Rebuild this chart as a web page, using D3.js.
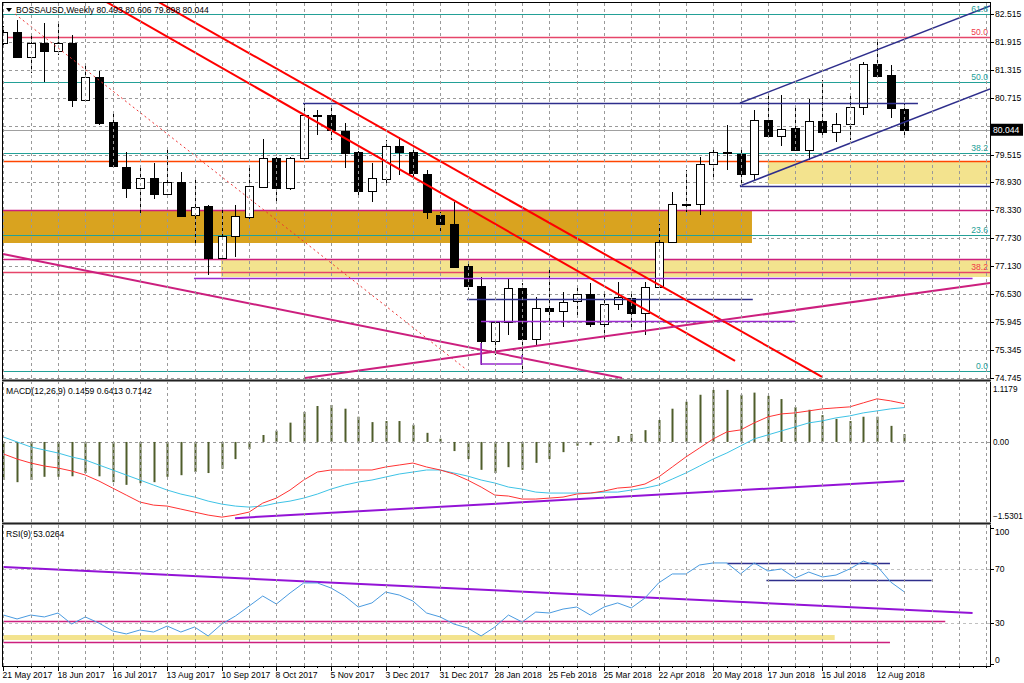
<!DOCTYPE html>
<html><head><meta charset="utf-8">
<script src="https://cdn.jsdelivr.net/npm/d3@7/dist/d3.min.js"></script>
<style>
body{margin:0;background:#fff;}
svg{display:block;font-family:"Liberation Sans",Arial,sans-serif;}
</style></head><body>
<svg id="c" width="1024" height="683"></svg>
<script>
// ---------- DATA ----------
const openP  = [81.90,82.13,81.60,81.90,81.73,81.90,80.68,81.17,80.21,79.25,78.80,79.02,78.67,78.93,78.22,78.42,77.31,77.78,78.18,78.82,79.44,78.80,79.44,80.36,80.36,80.02,79.57,78.74,79.00,79.70,79.57,79.10,78.22,78.03,77.14,76.71,75.53,75.94,76.67,75.58,76.24,76.18,76.39,76.54,75.90,76.33,76.45,76.13,76.69,77.65,78.46,78.46,79.31,79.57,79.53,79.10,80.25,79.91,80.08,79.61,80.23,80.00,80.17,80.53,81.45,81.21,80.493];
const highP  = [82.25,82.39,82.11,82.32,82.32,82.07,81.47,81.30,80.40,79.57,79.27,79.34,79.63,79.14,79.04,78.44,78.38,78.44,79.29,79.85,79.46,79.46,80.62,80.47,80.53,80.19,79.59,79.34,79.83,79.89,79.61,79.19,78.29,78.50,77.20,76.90,75.96,76.88,76.77,76.48,77.07,76.58,76.69,76.77,76.56,76.79,76.58,76.79,78.03,78.72,79.19,79.46,79.68,80.15,79.68,80.47,80.79,80.79,80.53,80.70,81.11,80.40,80.76,81.49,81.92,81.43,80.606];
const lowP   = [81.80,81.58,81.26,81.06,81.64,80.53,80.64,80.15,79.23,78.59,78.22,78.57,78.65,78.18,77.58,76.94,77.30,77.33,78.07,78.80,78.50,78.76,79.42,79.93,79.83,79.23,78.65,78.50,78.91,79.08,78.97,78.14,77.84,77.09,76.62,75.02,75.24,75.66,74.85,75.45,75.88,75.83,76.05,75.83,75.56,76.20,75.81,75.66,76.67,77.63,78.29,78.22,78.97,79.19,78.82,78.97,79.89,79.70,79.60,79.40,79.93,79.78,79.83,80.36,81.17,80.30,79.898];
const closeP = [82.13,81.60,81.90,81.73,81.90,80.68,81.17,80.19,79.27,78.80,79.02,78.67,78.93,78.20,78.40,77.31,77.78,78.20,78.84,79.44,78.80,79.44,80.36,80.34,80.04,79.55,78.74,79.02,79.70,79.57,79.12,78.29,78.03,77.12,76.71,75.53,75.94,76.67,75.58,76.24,76.18,76.37,76.54,75.90,76.33,76.48,76.13,76.69,77.65,78.46,78.44,79.31,79.57,79.55,79.10,80.25,79.91,80.06,79.61,80.23,80.00,80.17,80.53,81.45,81.19,80.51,80.044];

const macdHist = [-0.71,-0.75,-0.71,-0.65,-0.65,-0.64,-0.58,-0.64,-0.75,-0.80,-0.77,-0.75,-0.65,-0.62,-0.56,-0.58,-0.50,-0.32,-0.13,0.13,0.21,0.36,0.56,0.67,0.69,0.62,0.47,0.37,0.39,0.39,0.32,0.17,0.06,-0.17,-0.32,-0.52,-0.58,-0.47,-0.52,-0.39,-0.32,-0.19,-0.07,-0.06,0.01,0.11,0.15,0.22,0.41,0.62,0.75,0.88,0.97,0.97,0.88,0.92,0.86,0.80,0.65,0.60,0.50,0.43,0.39,0.47,0.47,0.30,0.1459];
const macdRed = [-0.224,-0.318,-0.393,-0.449,-0.486,-0.542,-0.617,-0.729,-0.860,-0.991,-1.121,-1.178,-1.196,-1.252,-1.308,-1.364,-1.402,-1.364,-1.308,-1.140,-1.047,-0.897,-0.710,-0.561,-0.523,-0.523,-0.523,-0.523,-0.467,-0.430,-0.393,-0.467,-0.523,-0.598,-0.710,-0.841,-0.991,-1.009,-1.065,-1.065,-1.047,-1.028,-0.972,-0.953,-0.916,-0.860,-0.841,-0.785,-0.654,-0.467,-0.280,-0.112,0.056,0.187,0.224,0.355,0.467,0.523,0.542,0.579,0.617,0.636,0.654,0.729,0.804,0.766,0.7142];
const macdCyan = [0.093,0.0,-0.093,-0.150,-0.206,-0.280,-0.336,-0.430,-0.523,-0.617,-0.710,-0.804,-0.897,-0.972,-1.028,-1.103,-1.159,-1.196,-1.215,-1.196,-1.140,-1.103,-1.047,-0.972,-0.879,-0.804,-0.748,-0.710,-0.654,-0.598,-0.561,-0.523,-0.523,-0.579,-0.636,-0.710,-0.766,-0.841,-0.879,-0.935,-0.953,-0.953,-0.953,-0.953,-0.935,-0.935,-0.897,-0.860,-0.804,-0.692,-0.579,-0.449,-0.318,-0.206,-0.075,0.056,0.131,0.206,0.280,0.355,0.393,0.449,0.486,0.542,0.579,0.617,0.6413];
const rsiVals = [36.0,33.1,36.0,34.6,37.5,29.4,34.6,30.1,24.3,22.1,25.0,23.5,27.9,23.5,27.2,20.6,29.4,35.3,42.6,50.0,44.1,52.2,59.6,59.6,55.9,50.0,41.9,44.9,52.9,50.7,46.3,37.5,34.6,29.4,26.5,20.6,27.2,36.0,30.9,38.2,37.5,40.4,41.9,36.0,41.9,44.9,41.2,48.5,59.6,66.2,66.2,72.8,74.3,74.3,66.2,74.3,68.4,69.9,63.2,67.6,64.0,65.4,69.9,75.7,72.1,60.3,53.0264];

const priceTicks = [82.515,81.915,81.315,80.715,80.115,79.515,78.930,78.330,77.730,77.130,76.530,75.945,75.345,74.745];
const dateTickIdx = [0,4,8,12,16,20,24,28,32,36,40,44,48,52,56,60,64];
const dateTickLabels = ["21 May 2017","18 Jun 2017","16 Jul 2017","13 Aug 2017","10 Sep 2017","8 Oct 2017","5 Nov 2017","3 Dec 2017","31 Dec 2017","28 Jan 2018","25 Feb 2018","25 Mar 2018","22 Apr 2018","20 May 2018","17 Jun 2018","15 Jul 2018","12 Aug 2018"];
const macdTicks = [1.1179, 0.00, -1.5301];
const rsiTicks = [100, 70, 30, 0];

const tealFibLevels = [82.515, 81.064, 79.548, 77.798, 74.895];
const tealFibLabels = ["61.8","50.0","38.2","23.6","0.0"];
const redFibLevels = [82.024, 77.008];
const redFibLabels = ["50.0","38.2"];
const orangeLevels = [79.377];
const magentaLevels = [78.332, 77.286];
const navyLevels = [[80.616,21.95,67.0],[78.844,53.96,73],[76.432,33.96,54.9]];
const purpleLevels = [[76.880,13.96,71.0],[75.962,34.99,58.0]];
const goldBand = [78.310, 77.627, -1, 54.84];
const khakiBands = [[79.356, 78.886, 56.0, 73],[77.264, 76.901, 15.94, 73]];
const redTrends = [[[7.297,82.814],[53.6,75.109]],[[11.11,82.814],[59.97,74.767]]];
const redDotted = [[0.85,82.515],[33.96,74.916]];
const magentaTrends = [[[-0.03,77.392],[45.32,74.745]],[[22.1,74.745],[72.28,76.773]]];
const channelLines = [[[53.96,80.615],[72.28,82.686]],[[53.96,78.844],[72.28,80.914]]];
const purpleBracket = [[34.99,75.493],[34.99,75.044],[38.0,75.044],[38.0,75.236]];
const macdTrend = [[16.97,-1.421],[66.0,-0.729]];
const rsiTrend = [[0,71.3],[71.0,37.5]];
const rsiMagenta = [[31.6,0,69.0],[16.2,0,64.95]];
const rsiKhaki = [21.3,17.6,0,60.9];
const rsiNavy = [[74.3,53.0,64.95],[61.8,55.9,68.0]];
const lastPrice = 80.044;

// ---------- SCALES ----------
const svg = d3.select("#c");
const xS = d3.scaleLinear().domain([0,72]).range([3.4, 3.4+13.65*72]);
const yP = d3.scaleLinear().domain([74.745,82.515]).range([378,14]);
const yM = d3.scaleLinear().domain([-1.5301,1.1179]).range([524,382]);
const yR = d3.scaleLinear().domain([0,100]).range([664,528]);
const px = i => Math.round(xS(i)) + 0.5;
const sy = v => Math.round(v) + 0.5;

const C = {teal:"#23a097", red:"#ff0000", fibRed:"#e6456a", orange:"#ff4500", magenta:"#cc1f7e",
  navy:"#2e2e8c", purple:"#9a2bd0", gold:"#d9a31f", khaki:"#f3e38e", grid:"#999999",
  cyan:"#3ec3e6", macdRed:"#ff3333", hist:"#4f5d2b", rsi:"#4a9be0", violet:"#9313d6"};

const defs = svg.append("defs");
[["cm",2,2,988,377],["cd",2,382,988,140],["cr",2,524,988,142]].forEach(([id,x,y,w,h])=>{
  defs.append("clipPath").attr("id",id).append("rect").attr("x",x).attr("y",y).attr("width",w).attr("height",h);
});

const gMain = svg.append("g").attr("clip-path","url(#cm)");
const gMacd = svg.append("g").attr("clip-path","url(#cd)");
const gRsi  = svg.append("g").attr("clip-path","url(#cr)");

// ---------- GRID ----------
const gridV = d3.range(0,73,2);
svg.append("g").selectAll("line").data(gridV).join("line")
  .attr("x1",d=>px(d)).attr("x2",d=>px(d)).attr("y1",3).attr("y2",666)
  .attr("stroke",C.grid).attr("stroke-dasharray","3,3");
gMain.append("g").selectAll("line").data(priceTicks).join("line")
  .attr("x1",3).attr("x2",990).attr("y1",d=>sy(yP(d))).attr("y2",d=>sy(yP(d)))
  .attr("stroke",C.grid).attr("stroke-dasharray","3,3");
gMacd.append("line").attr("x1",3).attr("x2",990).attr("y1",sy(yM(0))).attr("y2",sy(yM(0)))
  .attr("stroke",C.grid).attr("stroke-dasharray","3,3");
gRsi.append("g").selectAll("line").data([70,30]).join("line")
  .attr("x1",3).attr("x2",990).attr("y1",d=>sy(yR(d))).attr("y2",d=>sy(yR(d)))
  .attr("stroke","#c0c0c0").attr("stroke-dasharray","3,3");

// ---------- BANDS ----------
function band(g, b, yf, col){
  g.append("rect").attr("x",xS(b[2])).attr("width",xS(b[3])-xS(b[2]))
   .attr("y",yf(b[0])).attr("height",yf(b[1])-yf(b[0])).attr("fill",col);
}
band(gMain, goldBand, yP, C.gold);
khakiBands.forEach(b=>band(gMain,b,yP,C.khaki));

// ---------- HORIZONTAL LEVELS ----------
function hline(g, v, i1, i2, yf, col, w){
  g.append("line").attr("x1",xS(i1)).attr("x2",xS(i2)).attr("y1",sy(yf(v))).attr("y2",sy(yf(v)))
   .attr("stroke",col).attr("stroke-width",w||1);
}
tealFibLevels.forEach(v=>hline(gMain,v,-1,73,yP,C.teal,1.2));
redFibLevels.forEach(v=>hline(gMain,v,-1,73,yP,C.fibRed,1.5));
hline(gMain,lastPrice,-1,73,yP,"#a0a0a0",1);
orangeLevels.forEach(v=>hline(gMain,v,-1,73,yP,C.orange,1.5));
magentaLevels.forEach(v=>hline(gMain,v,-1,73,yP,C.magenta,1.5));

// ---------- CANDLES ----------
const idx = d3.range(openP.length);
const gc = gMain.append("g");
gc.selectAll("line").data(idx).join("line")
  .attr("x1",i=>px(i)).attr("x2",i=>px(i))
  .attr("y1",i=>Math.round(yP(highP[i]))).attr("y2",i=>Math.round(yP(lowP[i])))
  .attr("stroke","#000");
gc.selectAll("rect").data(idx).join("rect")
  .attr("x",i=>px(i)-4).attr("width",8)
  .attr("y",i=>sy(yP(Math.max(openP[i],closeP[i]))))
  .attr("height",i=>Math.max(0.01,Math.round(Math.abs(yP(openP[i])-yP(closeP[i])))))
  .attr("fill",i=>closeP[i]>=openP[i]?"#fff":"#000")
  .attr("stroke","#000");

// ---------- LINES OVER CANDLES ----------
navyLevels.forEach(d=>hline(gMain,d[0],d[1],d[2],yP,C.navy,1.5));
purpleLevels.forEach(d=>hline(gMain,d[0],d[1],d[2],yP,C.purple,1.5));
const lineP = d3.line().x(d=>xS(d[0])).y(d=>yP(d[1]));
redTrends.forEach(t=>gMain.append("path").attr("d",lineP(t)).attr("fill","none").attr("stroke",C.red).attr("stroke-width",2));
gMain.append("path").attr("d",lineP(redDotted)).attr("fill","none").attr("stroke","#e33").attr("stroke-width",1).attr("stroke-dasharray","2,3");
magentaTrends.forEach(t=>gMain.append("path").attr("d",lineP(t)).attr("fill","none").attr("stroke",C.magenta).attr("stroke-width",2));
channelLines.forEach(t=>gMain.append("path").attr("d",lineP(t)).attr("fill","none").attr("stroke",C.navy).attr("stroke-width",1.5));
gMain.append("path").attr("d",lineP(purpleBracket)).attr("fill","none").attr("stroke",C.purple).attr("stroke-width",1.5);

// fib labels
const fs = "8.6px";
gMain.append("g").selectAll("text").data(tealFibLevels).join("text")
  .attr("x",988).attr("y",d=>yP(d)-2).attr("text-anchor","end").attr("font-size",fs)
  .attr("fill",C.teal).text((d,i)=>tealFibLabels[i]);
gMain.append("g").selectAll("text").data(redFibLevels).join("text")
  .attr("x",988).attr("y",d=>yP(d)-2).attr("text-anchor","end").attr("font-size",fs)
  .attr("fill","#f03a4a").text((d,i)=>redFibLabels[i]);

// ---------- MACD ----------
gMacd.append("g").selectAll("line").data(idx).join("line")
  .attr("x1",i=>px(i)).attr("x2",i=>px(i)).attr("y1",yM(0)).attr("y2",i=>yM(macdHist[i]))
  .attr("stroke",C.hist).attr("stroke-width",2);
const lineM = d3.line().x((d,i)=>xS(i)).y(d=>yM(d));
gMacd.append("path").attr("d",lineM(macdCyan)).attr("fill","none").attr("stroke",C.cyan).attr("stroke-width",1);
gMacd.append("path").attr("d",lineM(macdRed)).attr("fill","none").attr("stroke",C.macdRed).attr("stroke-width",1);
gMacd.append("path").attr("d",d3.line().x(d=>xS(d[0])).y(d=>yM(d[1]))(macdTrend))
  .attr("fill","none").attr("stroke",C.violet).attr("stroke-width",2);

// ---------- RSI ----------
band(gRsi, rsiKhaki, yR, C.khaki);
rsiMagenta.forEach(d=>hline(gRsi,d[0],d[1],d[2],yR,C.magenta,1.5));
rsiNavy.forEach(d=>hline(gRsi,d[0],d[1],d[2],yR,C.navy,1.5));
gRsi.append("path").attr("d",d3.line().x(d=>xS(d[0])).y(d=>yR(d[1]))(rsiTrend))
  .attr("fill","none").attr("stroke",C.violet).attr("stroke-width",2);
gRsi.append("path").attr("d",d3.line().x((d,i)=>xS(i)).y(d=>yR(d))(rsiVals))
  .attr("fill","none").attr("stroke",C.rsi).attr("stroke-width",1);

// ---------- FRAME ----------
svg.append("rect").attr("x",2.5).attr("y",2.5).attr("width",988).attr("height",664)
  .attr("fill","none").attr("stroke","#000");
svg.append("rect").attr("x",2).attr("y",379).attr("width",989).attr("height",3).attr("fill","#8a8a8a");
svg.append("line").attr("x1",2).attr("x2",991).attr("y1",380.5).attr("y2",380.5).attr("stroke","#222");
svg.append("rect").attr("x",2).attr("y",522).attr("width",989).attr("height",3).attr("fill","#8a8a8a");
svg.append("line").attr("x1",2).attr("x2",991).attr("y1",523.5).attr("y2",523.5).attr("stroke","#222");

// ---------- AXES ----------
const ax = svg.append("g").attr("font-size",fs).attr("fill","#000");
ax.selectAll("line.pt").data(priceTicks).join("line").attr("class","pt")
  .attr("x1",990).attr("x2",994).attr("y1",d=>sy(yP(d))).attr("y2",d=>sy(yP(d))).attr("stroke","#000");
const visibleTicks = priceTicks.filter(d=>Math.abs(yP(d)-yP(lastPrice))>9);
ax.selectAll("text.pt").data(visibleTicks).join("text").attr("class","pt")
  .attr("x",995).attr("y",d=>yP(d)).attr("dy","0.35em").text(d=>d3.format(".3f")(d));
// last price box
svg.append("rect").attr("x",990).attr("y",yP(lastPrice)-6).attr("width",33).attr("height",12).attr("fill","#000");
svg.append("text").attr("x",993).attr("y",yP(lastPrice)).attr("dy","0.35em").attr("font-size",fs)
  .attr("fill","#fff").text(d3.format(".3f")(lastPrice));
// macd axis
const mOff = [7,0,-8];
ax.selectAll("text.mt").data(macdTicks).join("text").attr("class","mt")
  .attr("x",993).attr("y",(d,i)=>yM(d)+mOff[i]).attr("dy","0.35em").attr("font-size","8.2px")
  .text(d=>d===0?"0.00":d3.format(".4f")(d));
// rsi axis
const rOff = [4,0,0,-4];
ax.selectAll("text.rt").data(rsiTicks).join("text").attr("class","rt")
  .attr("x",995).attr("y",(d,i)=>yR(d)+rOff[i]).attr("dy","0.35em").text(d=>d);
ax.selectAll("line.rt").data(rsiTicks).join("line").attr("class","rt")
  .attr("x1",990).attr("x2",994).attr("y1",d=>sy(yR(d))).attr("y2",d=>sy(yR(d))).attr("stroke","#000");
// time axis
ax.selectAll("line.wk").data(d3.range(0,73)).join("line").attr("class","wk")
  .attr("x1",d=>px(d)).attr("x2",d=>px(d)).attr("y1",666).attr("y2",668).attr("stroke","#000");
ax.selectAll("line.dt").data(dateTickIdx).join("line").attr("class","dt")
  .attr("x1",d=>px(d)).attr("x2",d=>px(d)).attr("y1",666).attr("y2",671).attr("stroke","#000");
ax.selectAll("text.dt").data(dateTickIdx).join("text").attr("class","dt")
  .attr("x",d=>px(d)-1).attr("y",675).attr("dy","0.35em").text((d,i)=>dateTickLabels[i]);

// ---------- HEADERS ----------
svg.append("path").attr("d","M6,8 L12,8 L9,12 Z").attr("fill","#000");
svg.append("text").attr("x",16).attr("y",10).attr("dy","0.35em").attr("font-size",fs)
  .text("BOSSAUSD,Weekly  " + [openP[66],highP[66],lowP[66],closeP[66]].map(d3.format(".3f")).join(" "));
svg.append("text").attr("x",6).attr("y",391).attr("dy","0.35em").attr("font-size",fs)
  .text("MACD(12,26,9) " + [macdHist[66], macdCyan[66], macdRed[66]].map(d3.format(".4f")).join(" "));
svg.append("text").attr("x",6).attr("y",534).attr("dy","0.35em").attr("font-size",fs)
  .text("RSI(9) " + d3.format(".4f")(rsiVals[66]));
</script>
</body></html>
